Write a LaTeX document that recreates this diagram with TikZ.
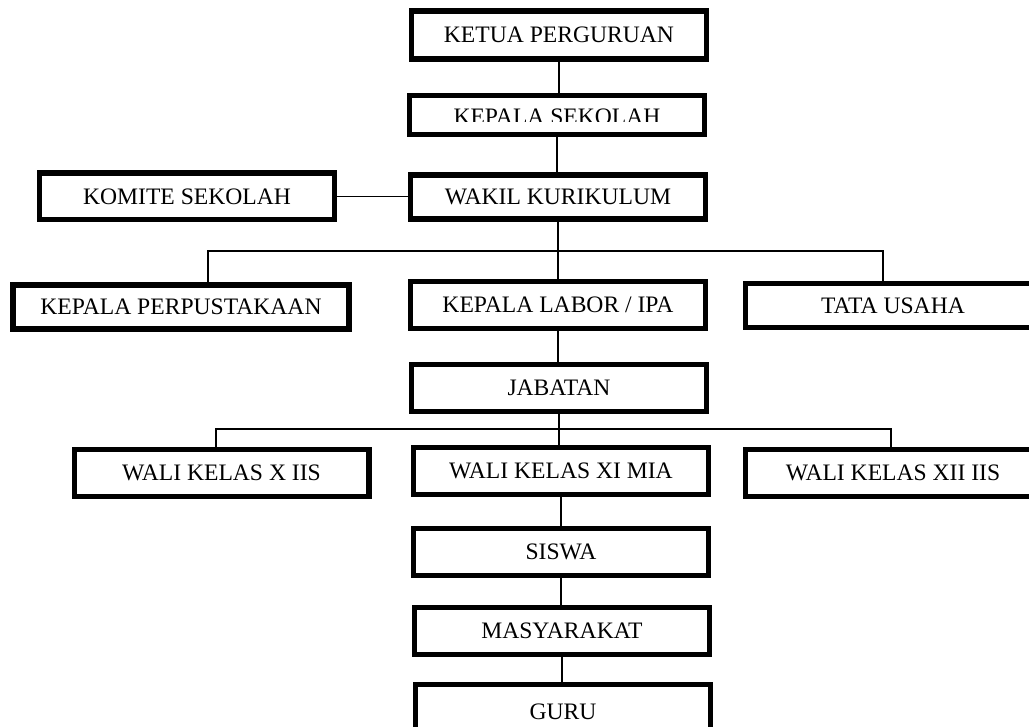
\documentclass[tikz,border=0pt]{standalone}
\usepackage{fontspec}
\setmainfont{Liberation Serif}
\begin{document}
\begin{tikzpicture}[x=0.75pt,y=-0.75pt,
  block/.style={draw,line width=4pt,inner sep=0pt,minimum width=221pt,minimum height=35pt,font=\fontsize{17.7}{20}\selectfont},
  link/.style={line width=1.3pt},
  bus/.style={line width=0.9pt}]
\def\busOne{251}
\def\busTwo{429}
\useasboundingbox (0,0) rectangle (1029,727);
\clip (0,0) rectangle (1029,727);
%\draw[help lines] (0,0) grid (1029,727);
\path
(559,35) node [block,minimum height=36pt] (ketua) {KETUA PERGURUAN}
(557,115) node [block,minimum height=29pt] (kepsek) {}
(558,197) node [block,minimum height=33pt] (wakil) {WAKIL KURIKULUM}
(187,196.5) node [block] (komite) {KOMITE SEKOLAH}
(181,307) node [block,minimum width=252pt,minimum height=33pt] (perpus) {KEPALA PERPUSTAKAAN}
(558,305) node [block] (labor) {KEPALA LABOR / IPA}
(893,305.5) node [block,minimum height=33pt] (tata) {TATA USAHA}
(559,388) node [block] (jabatan) {JABATAN}
(221.5,473) node [block] (walix) {WALI KELAS X IIS}
(561,471) node [block] (walixi) {WALI KELAS XI MIA}
(893,473) node [block] (walixii) {WALI KELAS XII IIS}
(561,552) node [block] (siswa) {SISWA}
(562,631) node [block] (masya) {MASYARAKAT}
(563,712) node [block,minimum height=41pt] (guru) {GURU}
;
\begin{scope}
  \clip (400,95) rectangle (715,122);
  \node[font=\fontsize{17.7}{20}\selectfont,anchor=base] (kepsektxt) at (557,125) {KEPALA SEKOLAH};
\end{scope}
% garis penghubung
\draw[link] (ketua.south) -- (ketua.south |- kepsek.north);
\draw[link] (kepsek.south) -- (kepsek.south |- wakil.north);
\draw[link] (komite.east) -- (komite.east -| wakil.west);
\draw[link] (wakil.south) -- (wakil.south |- labor.north);
\coordinate (busAl) at (208,\busOne);
\coordinate (busAr) at (883,\busOne);
\draw[bus] (busAl |- perpus.north) -- (busAl) -- (busAr) -- (busAr |- tata.north);
\draw[link] (labor.south) -- (labor.south |- jabatan.north);
\draw[link] (jabatan.south) -- (jabatan.south |- walixi.north);
\coordinate (busBl) at (216,\busTwo);
\coordinate (busBr) at (891,\busTwo);
\draw[bus] (busBl |- walix.north) -- (busBl) -- (busBr) -- (busBr |- walixii.north);
\draw[link] (walixi.south) -- (walixi.south |- siswa.north);
\draw[link] (siswa.south) -- (siswa.south |- masya.north);
\draw[link] (masya.south) -- (masya.south |- guru.north);
\end{tikzpicture}
\end{document}
